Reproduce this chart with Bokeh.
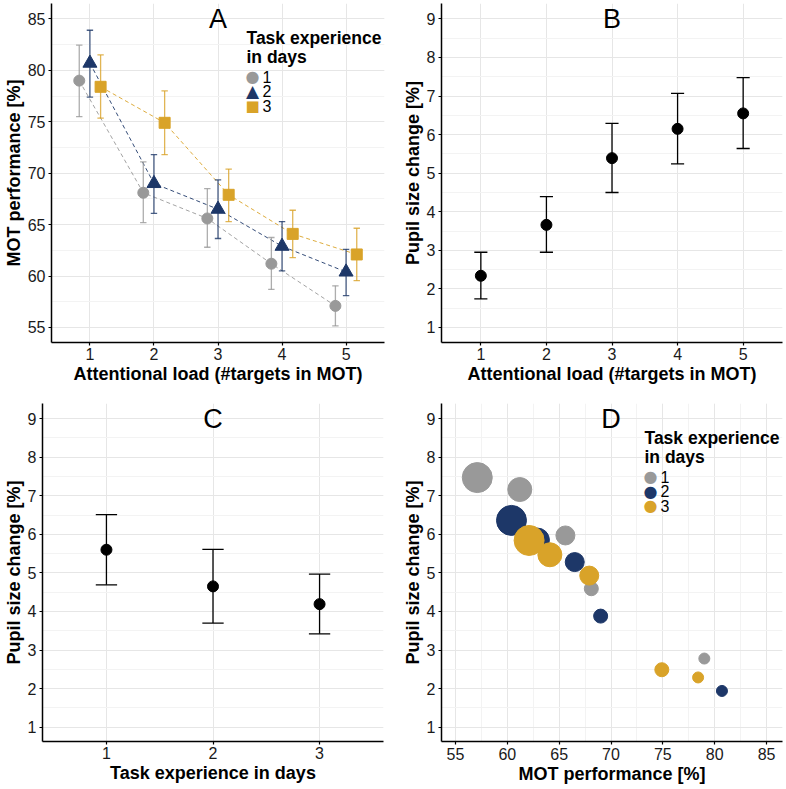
from bokeh.plotting import figure
from bokeh.layouts import column, row
from bokeh.models import Range1d, SingleIntervalTicker, FixedTicker, Label
from bokeh.embed import file_html
from bokeh.resources import INLINE

# ---------------- data ----------------
loads = [1, 2, 3, 4, 5]          # attentional load (#targets in MOT)
days = [1, 2, 3]                 # task experience in days

# Panel A: MOT performance [%] per day (mean, upper, lower of error bar)
mot_day1 = [79.0, 68.1, 65.6, 61.2, 57.1]
mot_day1_hi = [82.45, 71.1, 68.5, 63.75, 59.05]
mot_day1_lo = [75.5, 65.2, 62.8, 58.7, 55.15]
mot_day2 = [80.7, 69.0, 66.5, 62.9, 60.4]
mot_day2_hi = [83.9, 71.8, 69.35, 65.3, 62.6]
mot_day2_lo = [77.4, 66.1, 63.65, 60.5, 58.1]
mot_day3 = [78.4, 74.9, 67.9, 64.1, 62.1]
mot_day3_hi = [81.5, 78.0, 70.4, 66.4, 64.65]
mot_day3_lo = [75.35, 71.8, 65.3, 61.8, 59.55]

# Panel B: pupil size change [%] per load
pupil_by_load = [2.34, 3.66, 5.39, 6.15, 6.55]
pupil_by_load_hi = [2.95, 4.39, 6.29, 7.07, 7.48]
pupil_by_load_lo = [1.74, 2.95, 4.50, 5.24, 5.64]

# Panel C: pupil size change [%] per day
pupil_by_day = [5.60, 4.65, 4.19]
pupil_by_day_hi = [6.51, 5.61, 4.97]
pupil_by_day_lo = [4.69, 3.70, 3.42]

# Panel D: pupil size change [%] per day and load
pupil_day1 = [2.78, 4.59, 5.97, 7.16, 7.47]
pupil_day2 = [1.94, 3.88, 5.28, 5.85, 6.36]
pupil_day3 = [2.29, 2.49, 4.93, 5.47, 5.84]

mot = {1: mot_day1, 2: mot_day2, 3: mot_day3}
mot_hi = {1: mot_day1_hi, 2: mot_day2_hi, 3: mot_day3_hi}
mot_lo = {1: mot_day1_lo, 2: mot_day2_lo, 3: mot_day3_lo}
pupil = {1: pupil_day1, 2: pupil_day2, 3: pupil_day3}

# ---------------- style ----------------
FONT = "Liberation Sans"
COLORS = {1: "#999999", 2: "#1d3768", 3: "#d9a329"}
MARKERS = {1: "circle", 2: "triangle", 3: "square"}
MARKER_SIZE = {1: 11, 2: 14, 3: 11}
DODGE = {1: -1 / 6, 2: 0.0, 3: 1 / 6}
BUBBLE_DIAM = {1: 11, 2: 14, 3: 19, 4: 24, 5: 30}   # size scale by load
LEGEND_SYMBOL_A = {1: ("\u25CF", "16px"), 2: ("\u25B2", "17px"), 3: ("\u25A0", "15px")}
LEGEND_SYMBOL_D = {1: ("\u25CF", "16px"), 2: ("\u25CF", "16px"), 3: ("\u25CF", "16px")}


def make_fig(width, height, xr, yr, borders, xticker, yticker, xlabel, ylabel):
    p = figure(width=width, height=height, x_range=Range1d(*xr), y_range=Range1d(*yr),
               output_backend="svg", toolbar_location=None,
               min_border_left=borders[0], min_border_right=borders[1],
               min_border_top=borders[2], min_border_bottom=borders[3])
    p.outline_line_color = None
    p.background_fill_color = "white"
    p.border_fill_color = "white"
    p.xaxis[0].ticker = xticker
    p.yaxis[0].ticker = yticker
    p.xgrid[0].ticker = xticker
    p.ygrid[0].ticker = yticker
    p.xaxis.axis_label = xlabel
    p.yaxis.axis_label = ylabel
    for ax in (p.xaxis[0], p.yaxis[0]):
        ax.axis_line_color = "black"
        ax.axis_line_width = 1.5
        ax.major_tick_line_color = "black"
        ax.major_tick_line_width = 1.2
        ax.major_tick_out = 3
        ax.major_tick_in = 0
        ax.minor_tick_line_color = None
        ax.major_label_text_font = FONT
        ax.major_label_text_font_size = "16px"
        ax.major_label_text_color = "#1a1a1a"
        ax.major_label_standoff = 2
        ax.axis_label_text_font = FONT
        ax.axis_label_text_font_size = "18px"
        ax.axis_label_text_font_style = "bold"
        ax.axis_label_text_color = "black"
        ax.axis_label_standoff = 1
    for g in (p.xgrid[0], p.ygrid[0]):
        g.grid_line_color = "#e6e6e6"
        g.grid_line_width = 1
        g.minor_grid_line_color = "#f3f3f3"
        g.minor_grid_line_width = 1
    return p


def errorbars(p, xs, lo, hi, half, color, width, alpha):
    p.segment(x0=xs, y0=lo, x1=xs, y1=hi, line_color=color, line_width=width, line_alpha=alpha)
    p.segment(x0=[x - half for x in xs], y0=lo, x1=[x + half for x in xs], y1=lo,
              line_color=color, line_width=width, line_alpha=alpha)
    p.segment(x0=[x - half for x in xs], y0=hi, x1=[x + half for x in xs], y1=hi,
              line_color=color, line_width=width, line_alpha=alpha)


def panel_letter(p, x, y, letter):
    p.add_layout(Label(x=x, y=y, text=letter, text_font=FONT, text_font_size="27px",
                       text_align="center", text_baseline="middle", text_color="black"))


def legend(p, tx, ty, sx, sy, symbols):
    """Legend drawn as screen-space text: title lines, coloured symbols and labels."""
    for i, t in enumerate(["Task experience", "in days"]):
        p.add_layout(Label(x=tx, y=ty - i * 19, x_units="screen", y_units="screen", text=t,
                           text_font=FONT, text_font_size="17.5px", text_font_style="bold",
                           text_align="left", text_baseline="top", text_color="black"))
    for i, d in enumerate(days):
        sym, fs = symbols[d]
        p.add_layout(Label(x=sx, y=sy - i * 14.5, x_units="screen", y_units="screen",
                           text=sym, text_font="DejaVu Sans", text_font_size=fs,
                           text_align="center", text_baseline="middle", text_color=COLORS[d]))
        p.add_layout(Label(x=sx + 10, y=sy - i * 14.5, x_units="screen", y_units="screen",
                           text=str(d), text_font=FONT, text_font_size="16px",
                           text_align="left", text_baseline="middle", text_color="black"))


# ---------------- Panel A ----------------
pA = make_fig(393, 390, (0.4, 5.6), (53.54, 86.5), (49, 9, 3, 48),
              SingleIntervalTicker(interval=1, num_minor_ticks=0),
              SingleIntervalTicker(interval=5, num_minor_ticks=2),
              "Attentional load (#targets in MOT)", "MOT performance [%]")
for d in days:
    xs = [l + DODGE[d] for l in loads]
    pA.line(xs, mot[d], line_color=COLORS[d], line_dash="4 3", line_width=1, line_alpha=0.9)
for d in days:
    xs = [l + DODGE[d] for l in loads]
    errorbars(pA, xs, mot_lo[d], mot_hi[d], 0.05, COLORS[d], 1.3, 0.8)
for d in days:
    xs = [l + DODGE[d] for l in loads]
    pA.scatter(xs, mot[d], marker=MARKERS[d], size=MARKER_SIZE[d],
               fill_color=COLORS[d], line_color=COLORS[d])
legend(pA, 195, 315, 201, 266, LEGEND_SYMBOL_A)
panel_letter(pA, 3, 85, "A")

# ---------------- Panel B ----------------
pB = make_fig(393, 390, (0.4, 5.6), (0.61, 9.4), (48, 4, 3, 48),
              SingleIntervalTicker(interval=1, num_minor_ticks=0),
              SingleIntervalTicker(interval=1, num_minor_ticks=2),
              "Attentional load (#targets in MOT)", "Pupil size change [%]")
errorbars(pB, loads, pupil_by_load_lo, pupil_by_load_hi, 0.1, "black", 1.3, 1.0)
pB.scatter(loads, pupil_by_load, marker="circle", size=11, fill_color="black", line_color="black")
panel_letter(pB, 3, 9, "B")

# ---------------- Panel C ----------------
pC = make_fig(393, 398, (0.4, 3.6), (0.63, 9.39), (41, 10, 13, 47),
              FixedTicker(ticks=days),
              SingleIntervalTicker(interval=1, num_minor_ticks=2),
              "Task experience in days", "Pupil size change [%]")
errorbars(pC, days, pupil_by_day_lo, pupil_by_day_hi, 0.1, "black", 1.3, 1.0)
pC.scatter(days, pupil_by_day, marker="circle", size=11, fill_color="black", line_color="black")
panel_letter(pC, 2, 9, "C")

# ---------------- Panel D ----------------
pD = make_fig(393, 398, (53.65, 86.54), (0.63, 9.39), (48, 4, 13, 47),
              SingleIntervalTicker(interval=5, num_minor_ticks=2),
              SingleIntervalTicker(interval=1, num_minor_ticks=2),
              "MOT performance [%]", "Pupil size change [%]")
for d in days:
    sizes = [BUBBLE_DIAM[l] for l in loads]
    pD.scatter(mot[d], pupil[d], marker="circle", size=sizes,
               fill_color=COLORS[d], line_color=COLORS[d])
legend(pD, 203, 314, 209, 265, LEGEND_SYMBOL_D)
panel_letter(pD, 70, 9, "D")

layout = column(row(pA, pB), row(pC, pD))
open("out.html", "w").write(file_html(layout, INLINE))
